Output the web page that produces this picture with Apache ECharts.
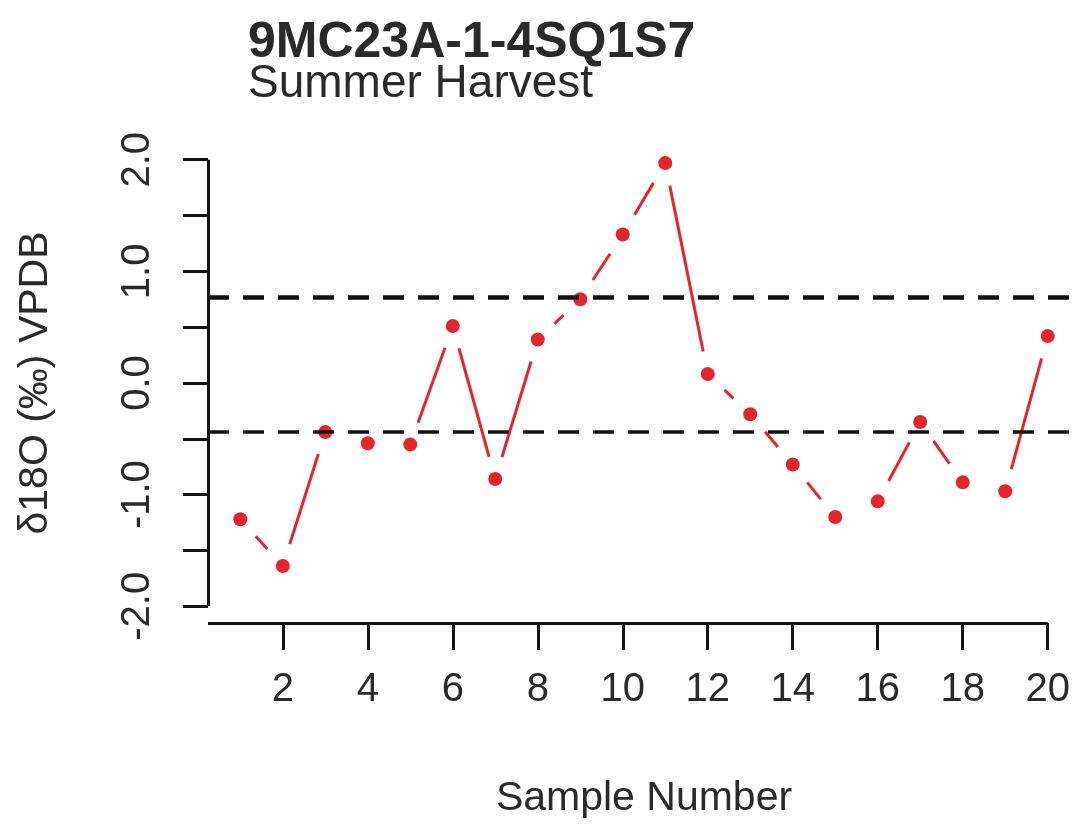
<!DOCTYPE html>
<html>
<head>
<meta charset="utf-8">
<script src="https://cdn.jsdelivr.net/npm/echarts@6/dist/echarts.min.js"></script>
<style>
html,body{margin:0;padding:0;background:#fff;}
#chart{width:1080px;height:826px;}
</style>
</head>
<body>
<div id="chart"></div>
<script>
// ---- data ----
const samples = [1,2,3,4,5,6,7,8,9,10,11,12,13,14,15,16,17,18,19,20];
const d18O = [-1.22,-1.64,-0.44,-0.54,-0.55,0.51,-0.86,0.39,0.75,1.33,1.97,0.08,-0.28,-0.73,-1.20,-1.06,-0.35,-0.89,-0.97,0.42];
const refLines = [0.77, -0.44];
const xTickValues = [2,4,6,8,10,12,14,16,18,20];
const yTickValues = [-2,-1.5,-1,-0.5,0,0.5,1,1.5,2];
const yLabelValues = [-2,-1,0,1,2];
const titleText = '9MC23A-1-4SQ1S7';
const subtitleText = 'Summer Harvest';
const xName = 'Sample Number';
const yName = 'δ18O (‰) VPDB';

// ---- styling ----
const RED = '#e2262c';
const FONT = 'Liberation Sans, Arial, Helvetica, sans-serif';
const TXT = '#2a2a2a';
const GAP = 23;
const X_MIN = 0.24, X_MAX = 20.76, Y_MIN = -2.15, Y_MAX = 2.15;

const pts = samples.map((x, i) => [x, d18O[i]]);

const chart = echarts.init(document.getElementById('chart'), null, {renderer: 'canvas'});
chart.setOption({
  animation: false,
  backgroundColor: '#fff',
  title: [
    {text: titleText, left: 243, top: 13,
     textStyle: {fontFamily: FONT, fontSize: 50, fontWeight: 'bold', color: TXT, lineHeight: 50}},
    {text: subtitleText, left: 243, top: 56,
     textStyle: {fontFamily: FONT, fontSize: 46, fontWeight: 'normal', color: TXT, lineHeight: 46}}
  ],
  grid: {left: 208, top: 143, width: 874, height: 480, containLabel: false},
  xAxis: {
    type: 'value', min: X_MIN, max: X_MAX,
    name: xName, nameLocation: 'middle', nameGap: 155,
    nameTextStyle: {fontFamily: FONT, fontSize: 41, color: TXT},
    axisLine: {show: false, onZero: false},
    splitLine: {show: false},
    axisTick: {show: true, length: 27, inside: false, customValues: xTickValues,
               lineStyle: {color: '#111', width: 3}},
    axisLabel: {show: true, customValues: xTickValues, margin: 47,
                fontFamily: FONT, fontSize: 40, color: TXT}
  },
  yAxis: {
    type: 'value', min: Y_MIN, max: Y_MAX,
    name: yName, nameLocation: 'middle', nameGap: 152, nameRotate: 90,
    nameTextStyle: {fontFamily: FONT, fontSize: 41, color: TXT},
    axisLine: {show: false, onZero: false},
    splitLine: {show: false},
    axisTick: {show: true, length: 25, inside: false, customValues: yTickValues,
               lineStyle: {color: '#111', width: 3}},
    axisLabel: {show: true, customValues: yLabelValues, rotate: 90, margin: 50,
                fontFamily: FONT, fontSize: 40, color: TXT,
                formatter: v => Number(v).toFixed(1)}
  },
  series: [
    {
      type: 'custom',
      z: 2,
      data: pts,
      encode: {x: 0, y: 1},
      clip: false,
      renderItem: function (params, api) {
        const i = params.dataIndex;
        if (i >= pts.length - 1) return;
        const p0 = api.coord(pts[i]);
        const p1 = api.coord(pts[i + 1]);
        const dx = p1[0] - p0[0], dy = p1[1] - p0[1];
        const L = Math.hypot(dx, dy);
        if (L <= 2 * GAP) return;
        const ux = dx / L, uy = dy / L;
        return {
          type: 'line',
          shape: {x1: p0[0] + ux * GAP, y1: p0[1] + uy * GAP,
                  x2: p1[0] - ux * GAP, y2: p1[1] - uy * GAP},
          style: {stroke: RED, lineWidth: 3}
        };
      }
    },
    {
      type: 'line',
      z: 3,
      data: [],
      silent: true,
      markLine: {
        silent: true, symbol: 'none', animation: false,
        label: {show: false},
        data: [
          {yAxis: refLines[0], lineStyle: {color: '#111', width: 4.5, type: [21, 14]}},
          {yAxis: refLines[1], lineStyle: {color: '#111', width: 3.5, type: [21, 14]}},
          [{coord: [X_MIN, -2], lineStyle: {color: '#111', width: 3, type: 'solid'}}, {coord: [X_MIN, 2]}],
          [{coord: [X_MIN, Y_MIN], lineStyle: {color: '#111', width: 3, type: 'solid'}}, {coord: [20, Y_MIN]}]
        ]
      }
    },
    {
      type: 'scatter',
      z: 4,
      data: pts,
      symbol: 'circle',
      symbolSize: 14,
      itemStyle: {color: RED, opacity: 1},
      silent: true
    }
  ]
});
</script>
</body>
</html>
